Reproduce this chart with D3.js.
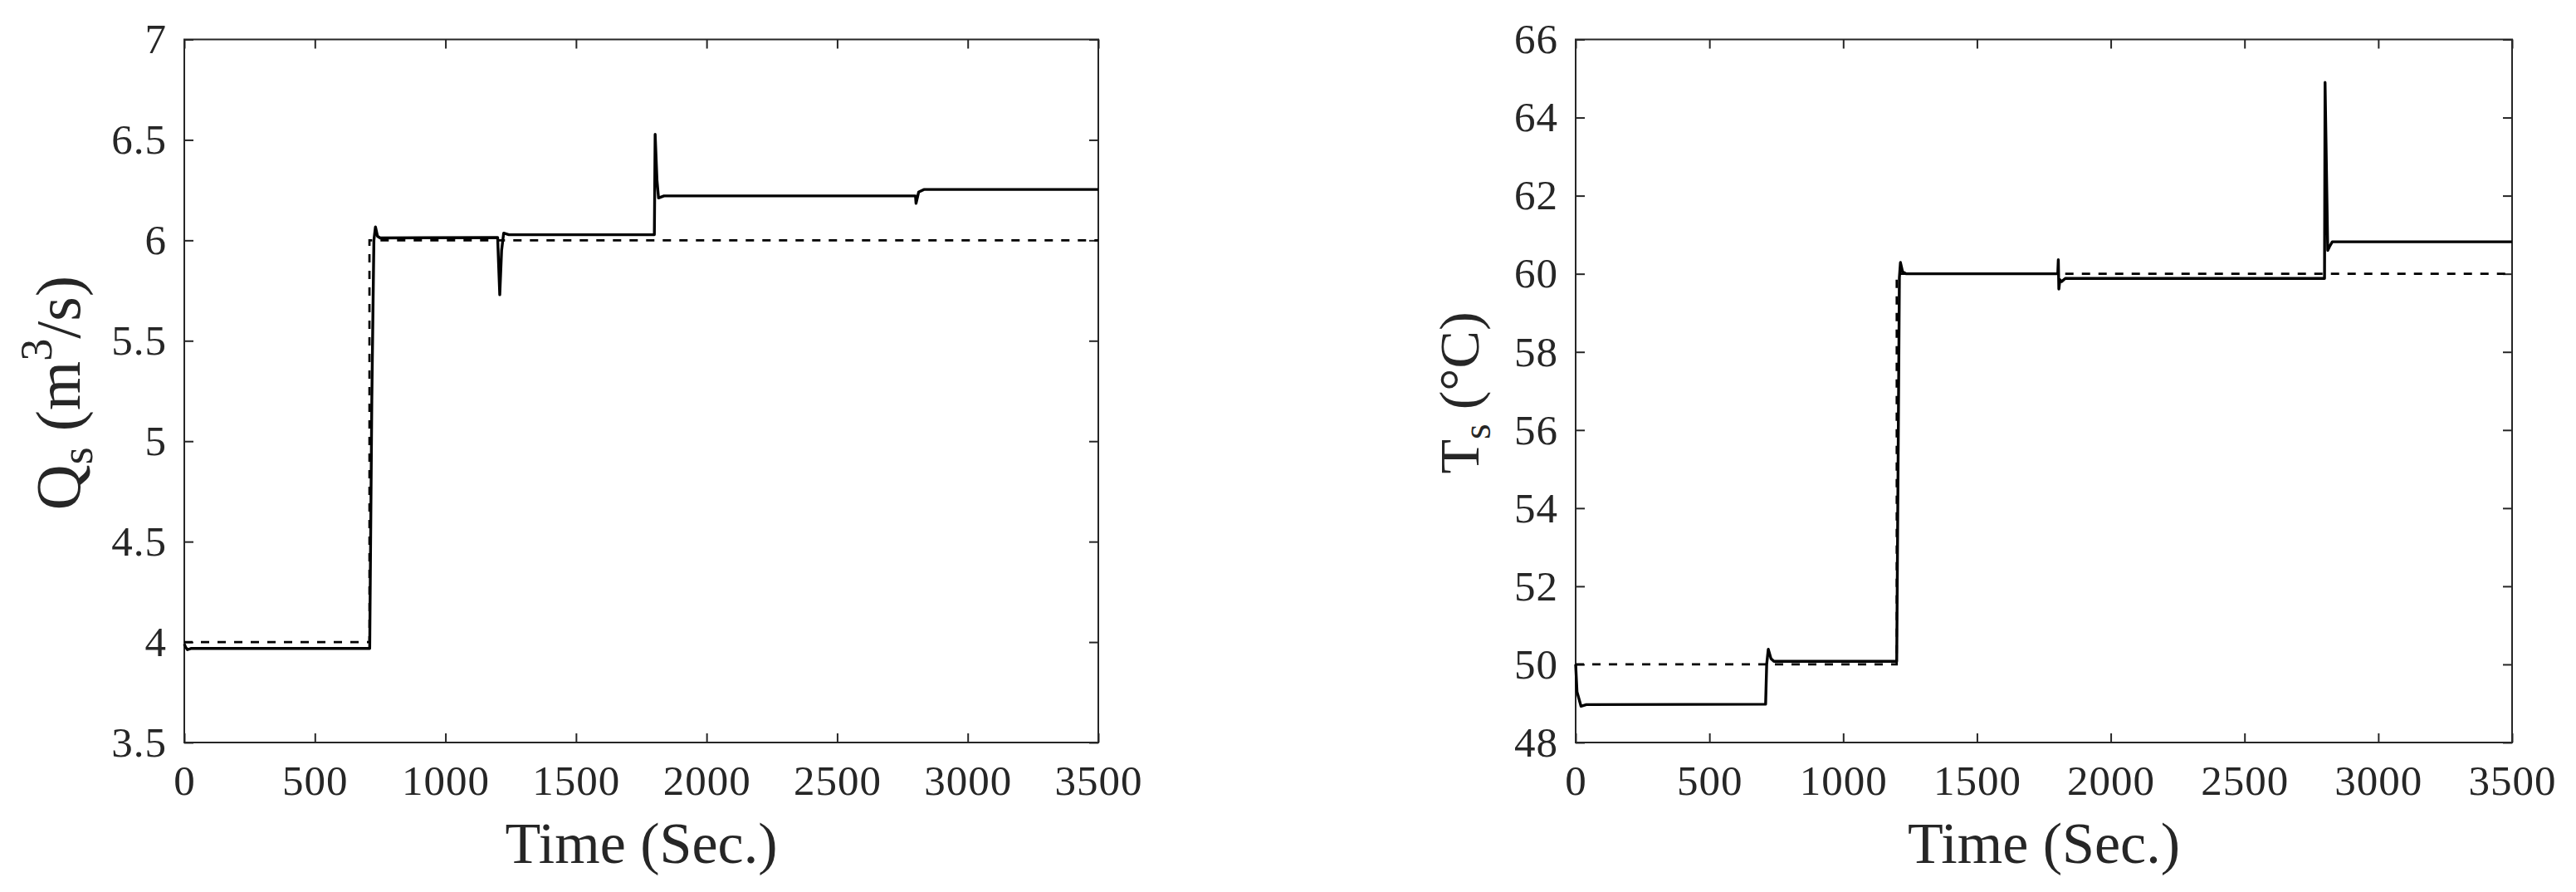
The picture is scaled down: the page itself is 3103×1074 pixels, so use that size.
<!DOCTYPE html>
<html>
<head>
<meta charset="utf-8">
<script src="https://cdn.jsdelivr.net/npm/d3@7"></script>
<style>
  html, body { margin: 0; padding: 0; background: #fff; }
  svg { display: block; }
  text { font-family: "Liberation Serif", "Times New Roman", serif; fill: #262626; }
</style>
</head>
<body>
<svg id="chart" width="3103" height="1074"></svg>
<script>
// ---------- Data ----------
const xTicks = [0, 500, 1000, 1500, 2000, 2500, 3000, 3500];
const qTicks = [3.5, 4, 4.5, 5, 5.5, 6, 6.5, 7];
const tTicks = [48, 50, 52, 54, 56, 58, 60, 62, 64, 66];

// Left panel: flow Q_s (solid = response, dashed = setpoint)
const qTime = [0, 5, 12, 25, 710, 718, 726, 732, 740, 750, 1200, 1203, 1208, 1215, 1223, 1243, 1800, 1803, 1810, 1816, 1837, 2800, 2802, 2812, 2832, 3500];
const qValue = [3.99, 3.975, 3.962, 3.968, 3.968, 5.2, 6.0, 6.067, 6.02, 6.012, 6.014, 5.9, 5.729, 5.95, 6.036, 6.028, 6.028, 6.528, 6.3, 6.211, 6.221, 6.221, 6.184, 6.24, 6.253, 6.253];
const qRefTime = [0, 709, 709, 3500];
const qRefValue = [4, 4, 6, 6];

// Right panel: temperature T_s
const tTime = [0, 5, 20, 40, 710, 714, 720, 730, 741, 1200, 1210, 1214, 1222, 1236, 1802, 1804, 1806, 1810, 1816, 1830, 2799, 2801, 2811, 2818, 2828, 3500];
const tValue = [50, 49.3, 48.93, 48.97, 48.98, 50.0, 50.39, 50.15, 50.08, 50.08, 59.9, 60.29, 60.05, 60.0, 60.0, 60.36, 59.61, 59.85, 59.8, 59.88, 59.88, 64.9, 60.6, 60.7, 60.82, 60.82];
const tRefTime = [0, 1200, 1200, 3500];
const tRefValue = [50, 50, 60, 60];

// ---------- Drawing ----------
const svg = d3.select("#chart");
const axisColor = "#262626";

function panel(opts) {
  const x = d3.scaleLinear().domain([0, 3500]).range([opts.x0, opts.x1]);
  const y = d3.scaleLinear().domain(opts.yDomain).range([894, 47.5]);
  const g = svg.append("g");

  const styleAxis = sel => {
    sel.selectAll("path.domain").remove();
    sel.selectAll(".tick line").attr("stroke", axisColor).attr("stroke-width", 2);
    sel.selectAll(".tick text")
      .attr("fill", axisColor)
      .style("font-family", '"Liberation Serif", serif')
      .style("font-size", "51px")
      .style("letter-spacing", "1px");
  };

  g.append("g").attr("transform", `translate(0,894)`)
    .call(d3.axisBottom(x).tickValues(xTicks).tickSizeInner(-11).tickSizeOuter(0).tickPadding(27).tickFormat(d3.format("d")))
    .call(styleAxis);
  g.append("g").attr("transform", `translate(0,47.5)`)
    .call(d3.axisTop(x).tickValues(xTicks).tickSizeInner(-11).tickSizeOuter(0).tickFormat(""))
    .call(styleAxis);
  g.append("g").attr("transform", `translate(${opts.x0},0)`)
    .call(d3.axisLeft(y).tickValues(opts.yTicks).tickSizeInner(-11).tickSizeOuter(0).tickPadding(21).tickFormat(d => String(d)))
    .call(styleAxis);
  g.append("g").attr("transform", `translate(${opts.x1},0)`)
    .call(d3.axisRight(y).tickValues(opts.yTicks).tickSizeInner(-11).tickSizeOuter(0).tickFormat(""))
    .call(styleAxis);

  g.append("rect")
    .attr("x", opts.x0).attr("y", 47.5)
    .attr("width", opts.x1 - opts.x0).attr("height", 894 - 47.5)
    .attr("fill", "none").attr("stroke", axisColor).attr("stroke-width", 2);

  const line = d3.line().x(d => x(d[0])).y(d => y(d[1]));

  g.append("path")
    .datum(opts.refT.map((t, i) => [t, opts.refV[i]]))
    .attr("d", line)
    .attr("fill", "none").attr("stroke", "#000")
    .attr("stroke-width", 2.7).attr("stroke-dasharray", "10,10");

  g.append("path")
    .datum(opts.t.map((t, i) => [t, opts.v[i]]))
    .attr("d", line)
    .attr("fill", "none").attr("stroke", "#000")
    .attr("stroke-width", 3.4).attr("stroke-linejoin", "round");

  g.append("text")
    .attr("x", (opts.x0 + opts.x1) / 2).attr("y", 1039)
    .attr("text-anchor", "middle")
    .style("font-size", "70px")
    .text("Time (Sec.)");

  const yl = g.append("text")
    .attr("transform", `translate(${opts.labelX},473) rotate(-90)`)
    .attr("text-anchor", "middle")
    .style("font-size", opts.labelSize + "px");
  opts.yLabel(yl);
}

panel({
  x0: 222, x1: 1323, yDomain: [3.5, 7], yTicks: qTicks,
  t: qTime, v: qValue, refT: qRefTime, refV: qRefValue,
  labelX: 96, labelSize: 76,
  yLabel: yl => {
    yl.append("tspan").text("Q");
    yl.append("tspan").attr("dy", 15).style("font-size", "54px").text("s");
    yl.append("tspan").attr("dy", -15).text(" (m");
    yl.append("tspan").attr("dy", -34).style("font-size", "54px").text("3");
    yl.append("tspan").attr("dy", 34).text("/s)");
  }
});

panel({
  x0: 1898, x1: 3026, yDomain: [48, 66], yTicks: tTicks,
  t: tTime, v: tValue, refT: tRefTime, refV: tRefValue,
  labelX: 1781, labelSize: 68,
  yLabel: yl => {
    yl.append("tspan").text("T");
    yl.append("tspan").attr("dy", 14).style("font-size", "48px").text("s");
    yl.append("tspan").attr("dy", -14).text(" (°C)");
  }
});
</script>
</body>
</html>
